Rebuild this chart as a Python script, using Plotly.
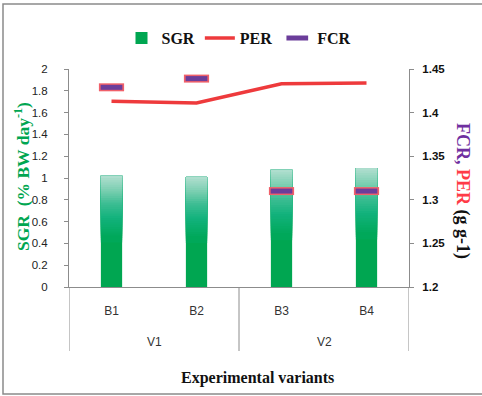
import plotly.graph_objects as go

# ---- data ----
groups = ["V1", "V1", "V2", "V2"]
variants = ["B1", "B2", "B3", "B4"]
sgr = [1.02, 1.01, 1.075, 1.09]
per = [1.413, 1.411, 1.433, 1.434]
fcr = [1.429, 1.439, 1.31, 1.31]

# ---- styling ----
W, H = 482, 396
ML, MR, MT, MB = 69, 73, 69, 109
PW, PH = W - ML - MR, H - MT - MB
SERIF = "Liberation Serif, Times New Roman, serif"
SANS = "Liberation Sans Narrow, Liberation Sans, Arial, sans-serif"
GREEN = "#00a651"
BAR_W = 0.25
axis_col = "#8c8c8c"


def px_x(p):
    return (p - ML) / PW


def px_y(p):
    return (H - MB - p) / PH


def hex2rgb(h):
    h = h.lstrip("#")
    return tuple(int(h[i:i + 2], 16) for i in (0, 2, 4))


grad_stops = [(0.0, "#00a651"), (0.45, "#00a85a"), (0.62, "#12b27c"),
              (0.75, "#3dbd93"), (0.88, "#80d0b4"), (1.0, "#b2dfd0")]


def grad_color(f):
    for (a, ca), (b, cb) in zip(grad_stops[:-1], grad_stops[1:]):
        if a <= f <= b:
            t = (f - a) / (b - a) if b > a else 0
            ra, rb = hex2rgb(ca), hex2rgb(cb)
            return "rgb(%d,%d,%d)" % tuple(round(ra[i] + (rb[i] - ra[i]) * t) for i in range(3))
    return grad_stops[-1][1]


fig = go.Figure()

fig.add_trace(go.Bar(x=variants, y=sgr, name="SGR", width=BAR_W,
                     marker=dict(color=GREEN, line=dict(width=0))))

# vertical colour fade on the upper part of each bar (each layer runs to the bar top,
# later layers start higher, so there are no seams)
n_seg = 30
f_start = 0.4
for i in range(n_seg):
    f0 = f_start + (1 - f_start) * i / n_seg
    fmid = f_start + (1 - f_start) * (i + 0.5) / n_seg
    fig.add_trace(go.Bar(x=variants, y=[v * (1 - f0) for v in sgr], base=[v * f0 for v in sgr],
                         width=BAR_W, showlegend=False, hoverinfo="skip",
                         marker=dict(color=grad_color(fmid), line=dict(width=0))))

fig.add_trace(go.Scatter(x=variants, y=per, name="PER", yaxis="y2", mode="lines",
                         line=dict(color="#ee3a3c", width=3.5)))

fig.add_trace(go.Scatter(x=variants, y=fcr, name="FCR", yaxis="y2", mode="markers", showlegend=False,
                         hoverinfo="skip",
                         marker=dict(symbol="line-ew", size=18,
                                     line=dict(color="#f0606a", width=8))))
fig.add_trace(go.Scatter(x=variants, y=fcr, name="FCR", yaxis="y2", mode="markers",
                         marker=dict(symbol="line-ew", size=15.5,
                                     line=dict(color="#6b3d9a", width=5))))

# group labels and dividers for the two-level category axis
annotations = []
shapes = []
group_names = []
for g in groups:
    if g not in group_names:
        group_names.append(g)
for g in group_names:
    idx = [i for i, gg in enumerate(groups) if gg == g]
    annotations.append(dict(text=g, x=(idx[0] + idx[-1]) / 2, y=px_y(342), xref="x", yref="paper",
                            showarrow=False, xanchor="center", yanchor="middle",
                            font=dict(family=SANS, size=12, color="#333")))
bounds = [-0.5] + [i + 0.5 for i in range(len(groups) - 1) if groups[i] != groups[i + 1]] + [len(groups) - 0.5]
for b in bounds:
    shapes.append(dict(type="line", xref="x", yref="paper", x0=b, x1=b, y0=0, y1=px_y(351),
                       line=dict(color=axis_col, width=1)))

annotations += [
    dict(text="SGR&nbsp;&nbsp;(% BW day<sup>-1</sup>)", x=px_x(22), y=px_y(177), xref="paper", yref="paper",
         textangle=-90, showarrow=False, xanchor="center", yanchor="middle",
         font=dict(family=SERIF, size=17.5, color=GREEN, weight="bold")),
    dict(text="<span style='color:#7030a0'>FCR,</span> <span style='color:#ff3b47'>PER</span> (g g-1)",
         x=px_x(463), y=px_y(191), xref="paper", yref="paper",
         textangle=90, showarrow=False, xanchor="center", yanchor="middle",
         font=dict(family=SERIF, size=18, color="#111", weight="bold")),
    dict(text="Experimental variants", x=px_x(257), y=px_y(378), xref="paper", yref="paper",
         showarrow=False, xanchor="center", yanchor="middle",
         font=dict(family=SERIF, size=16, color="#111", weight="bold")),
]
shapes.append(dict(type="rect", xref="paper", yref="paper",
                   x0=px_x(3), x1=px_x(486), y0=px_y(394), y1=px_y(4),
                   line=dict(color="#8a8a8a", width=1.5), fillcolor="rgba(0,0,0,0)", layer="below"))

fig.update_layout(
    width=W, height=H, autosize=False,
    margin=dict(l=ML, r=MR, t=MT, b=MB, pad=0),
    paper_bgcolor="white", plot_bgcolor="white",
    barmode="overlay",
    showlegend=True,
    legend=dict(orientation="h", x=0.5, xanchor="center", y=px_y(38), yanchor="middle",
                font=dict(family=SERIF, size=16, color="#111", weight="bold"),
                bgcolor="rgba(0,0,0,0)", itemwidth=30, traceorder="normal"),
    xaxis=dict(type="category", range=[-0.5, len(variants) - 0.5], showline=True,
               linecolor=axis_col, linewidth=1, ticks="", showgrid=False, zeroline=False,
               ticklabelstandoff=13,
               tickfont=dict(family=SANS, size=12, color="#333")),
    yaxis=dict(range=[0, 2], dtick=0.2, showline=True, linecolor=axis_col, linewidth=1,
               ticks="outside", ticklen=4, tickcolor=axis_col, showgrid=False, zeroline=False,
               ticklabelstandoff=14,
               tickfont=dict(family=SANS, size=11.5, color="#222")),
    yaxis2=dict(overlaying="y", side="right", range=[1.2, 1.45], dtick=0.05,
                showline=True, linecolor=axis_col, linewidth=1,
                ticks="outside", ticklen=4, tickcolor=axis_col, showgrid=False, zeroline=False,
                ticklabelstandoff=6,
                tickfont=dict(family=SANS, size=11.5, color="#111", weight="bold")),
    annotations=annotations,
    shapes=shapes,
)

fig.write_html("out.html")
